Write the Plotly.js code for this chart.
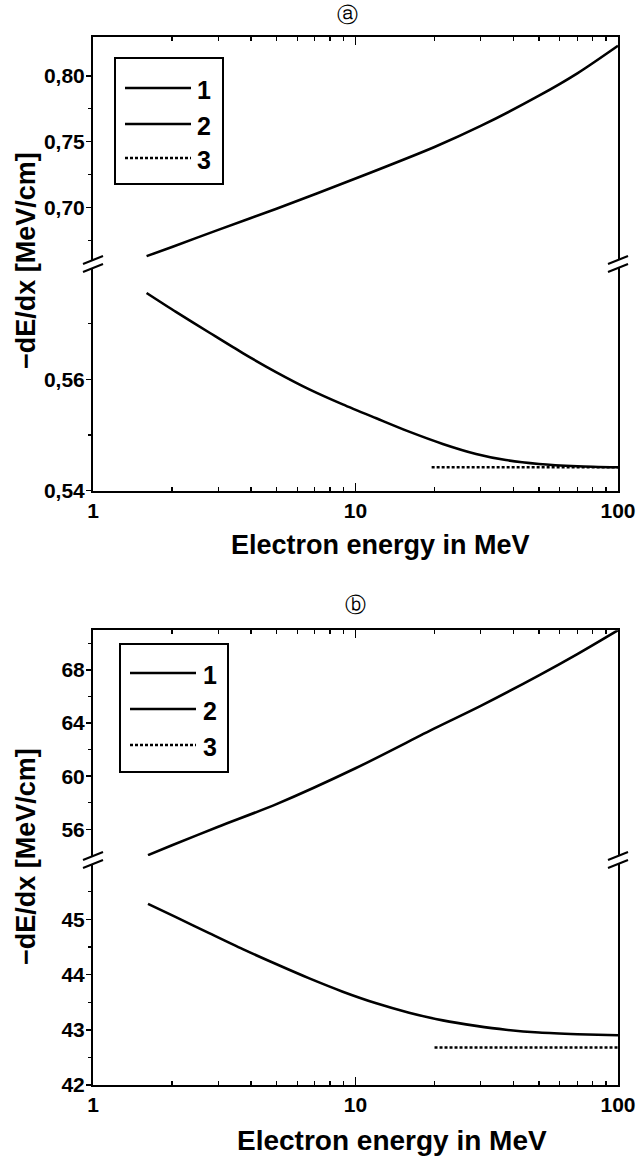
<!DOCTYPE html>
<html>
<head>
<meta charset="utf-8">
<script src="https://cdn.plot.ly/plotly-3.0.1.min.js"></script>
<style>html,body{margin:0;padding:0;background:#fff;}#chart{width:640px;height:1158px;}</style>
</head>
<body>
<div id="chart"></div>
<script>
// ---------- data ----------
const xTickVals = [1, 10, 100];
const xTickText = ['1', '10', '100'];
const xMinorVals = [2, 3, 4, 5, 6, 7, 8, 9, 20, 30, 40, 50, 60, 70, 80, 90];

// panel (a)
const aUpperTickVals = [0.70, 0.75, 0.80];
const aUpperTickText = ['0,70', '0,75', '0,80'];
const aUpperMinor = [0.675, 0.725, 0.775];
const aLowerTickVals = [0.54, 0.56];
const aLowerTickText = ['0,54', '0,56'];
const aLowerMinor = [0.55, 0.57];

const aCurve1E = [1.6, 2, 3, 5, 10, 20, 30, 50, 70, 100];
const aCurve1 = [0.663, 0.670, 0.683, 0.699, 0.722, 0.746, 0.762, 0.785, 0.802, 0.823];
const aCurve2E = [1.6, 2.07, 2.77, 3.72, 4.98, 6.67, 8.94, 12, 16, 21.5, 28.8, 37.4, 50, 70, 100];
const aCurve2 = [0.5755, 0.5721, 0.5684, 0.5647, 0.5613, 0.5582, 0.5555, 0.5530, 0.5506, 0.5484, 0.5466, 0.5455, 0.5448, 0.5444, 0.5442];
const aCurve3E = [19.5, 100];
const aCurve3 = [0.5442, 0.5442];

// panel (b)
const bUpperTickVals = [56, 60, 64, 68];
const bUpperTickText = ['56', '60', '64', '68'];
const bUpperMinor = [58, 62, 66, 70];
const bLowerTickVals = [42, 43, 44, 45];
const bLowerTickText = ['42', '43', '44', '45'];
const bLowerMinor = [42.5, 43.5, 44.5, 45.5];

const bCurve1E = [1.62, 2, 3, 5, 10, 20, 30, 50, 70, 100];
const bCurve1 = [54.06, 54.8, 56.2, 57.9, 60.6, 63.6, 65.3, 67.6, 69.2, 71.0];
const bCurve2E = [1.62, 2.07, 2.77, 3.72, 4.98, 6.67, 8.94, 12, 16, 21.5, 28.8, 37.4, 50, 70, 100];
const bCurve2 = [45.28, 45.04, 44.75, 44.46, 44.19, 43.93, 43.69, 43.48, 43.31, 43.17, 43.07, 43.00, 42.95, 42.92, 42.90];
const bCurve3E = [20, 100];
const bCurve3 = [42.68, 42.68];

const legendLabels = ['1', '2', '3'];
const xTitle = 'Electron energy in MeV';
const yTitle = '\u2212dE/dx [MeV/cm]';
const panelLabels = ['\u24D0', '\u24D1'];

// ---------- layout helpers ----------
const W = 640, H = 1158;
const px = v => v / W;
const py = v => 1 - v / H;
const FONT = 'Liberation Sans, Arial, sans-serif';
const tickFont = {family: FONT, size: 21, color: '#000', weight: 700};

const xDomain = [px(93), px(618)];

function xAxis(anchor, top) {
  return {
    type: 'log', range: [0, 2], domain: xDomain, anchor: anchor,
    side: top ? 'top' : 'bottom',
    showline: true, linecolor: '#000', linewidth: 2, mirror: false,
    ticks: 'inside', ticklen: 8, tickwidth: 1.5, tickcolor: '#000',
    tickvals: xTickVals, ticktext: xTickText, showticklabels: !top,
    minor: {ticks: 'inside', ticklen: 4, tickwidth: 1.2, tickcolor: '#000', tickvals: xMinorVals, showgrid: false},
    showgrid: false, zeroline: false, tickfont: tickFont, automargin: false, fixedrange: true
  };
}
function yAxis(anchor, dom, range, tv, tt, mv) {
  return {
    domain: dom, range: range, anchor: anchor,
    showline: true, linecolor: '#000', linewidth: 2, mirror: true,
    ticks: 'outside', ticklen: 5, tickwidth: 1.5, tickcolor: '#000',
    tickvals: tv, ticktext: tt, ticklabelstandoff: -3,
    minor: {ticks: 'outside', ticklen: 3, tickwidth: 1.2, tickcolor: '#000', tickvals: mv, showgrid: false},
    showgrid: false, zeroline: false, tickfont: tickFont, automargin: false, fixedrange: true
  };
}

const solid = {color: '#000', width: 2.6, shape: 'spline', smoothing: 0.8};
const dotted = {color: '#000', width: 2.4, dash: '3px,2px'};

const traces = [
  {x: aCurve1E, y: aCurve1, xaxis: 'x2', yaxis: 'y2', mode: 'lines', line: solid, name: legendLabels[0]},
  {x: aCurve2E, y: aCurve2, xaxis: 'x', yaxis: 'y', mode: 'lines', line: solid, name: legendLabels[1]},
  {x: aCurve3E, y: aCurve3, xaxis: 'x', yaxis: 'y', mode: 'lines', line: dotted, name: legendLabels[2]},
  {x: bCurve1E, y: bCurve1, xaxis: 'x4', yaxis: 'y4', mode: 'lines', line: solid, name: legendLabels[0]},
  {x: bCurve2E, y: bCurve2, xaxis: 'x3', yaxis: 'y3', mode: 'lines', line: solid, name: legendLabels[1]},
  {x: bCurve3E, y: bCurve3, xaxis: 'x3', yaxis: 'y3', mode: 'lines', line: dotted, name: legendLabels[2]}
];

// break marks and legends (decoration)
const shapes = [];
function breakMarks(xc, yc) {
  [-4, 4].forEach(d => {
    shapes.push({type: 'line', xref: 'paper', yref: 'paper',
      x0: px(xc - 10), y0: py(yc + d + 4), x1: px(xc + 10), y1: py(yc + d - 4),
      line: {color: '#000', width: 2}});
  });
}
breakMarks(93, 264); breakMarks(618, 264);
breakMarks(93, 860); breakMarks(618, 860);

const annotations = [];
function legendBox(x0, y0, x1, y1, lx0, lx1, rows, labelX) {
  shapes.push({type: 'rect', xref: 'paper', yref: 'paper', x0: px(x0), y0: py(y1), x1: px(x1), y1: py(y0),
    line: {color: '#000', width: 2}, fillcolor: 'rgba(0,0,0,0)'});
  rows.forEach((ry, i) => {
    shapes.push({type: 'line', xref: 'paper', yref: 'paper', x0: px(lx0), y0: py(ry), x1: px(lx1), y1: py(ry),
      line: {color: '#000', width: i === 2 ? 2.4 : 2.4, dash: i === 2 ? '3px,2px' : 'solid'}});
    annotations.push({xref: 'paper', yref: 'paper', x: px(labelX), y: py(ry + 2), xanchor: 'left', yanchor: 'middle',
      text: legendLabels[i], showarrow: false, font: {family: FONT, size: 25, color: '#000', weight: 700}});
  });
}
legendBox(115, 58, 223, 184, 125, 191, [88, 124, 158], 195);
legendBox(120, 644, 228, 772, 130, 196, [673, 709, 745], 201);

const titleFont = {family: FONT, size: 27, color: '#000', weight: 700};
annotations.push({xref: 'paper', yref: 'paper', x: px(380), y: py(545), text: xTitle, showarrow: false,
  xanchor: 'center', yanchor: 'middle', font: titleFont});
annotations.push({xref: 'paper', yref: 'paper', x: px(392), y: py(1140), text: xTitle, showarrow: false,
  xanchor: 'center', yanchor: 'middle', font: {family: FONT, size: 28, color: '#000', weight: 700}});
annotations.push({xref: 'paper', yref: 'paper', x: px(26), y: py(261), text: yTitle, showarrow: false, textangle: -90,
  xanchor: 'center', yanchor: 'middle', font: titleFont});
annotations.push({xref: 'paper', yref: 'paper', x: px(26), y: py(857), text: yTitle, showarrow: false, textangle: -90,
  xanchor: 'center', yanchor: 'middle', font: titleFont});
annotations.push({xref: 'paper', yref: 'paper', x: px(347), y: py(15), text: panelLabels[0], showarrow: false,
  xanchor: 'center', yanchor: 'middle', font: {family: 'DejaVu Sans', size: 21, color: '#000'}});
annotations.push({xref: 'paper', yref: 'paper', x: px(355), y: py(605), text: panelLabels[1], showarrow: false,
  xanchor: 'center', yanchor: 'middle', font: {family: 'DejaVu Sans', size: 21, color: '#000'}});

const layout = {
  width: W, height: H, margin: {l: 0, r: 0, t: 0, b: 0}, showlegend: false,
  paper_bgcolor: '#fff', plot_bgcolor: '#fff',
  xaxis: xAxis('y', false),
  xaxis2: xAxis('y2', true),
  xaxis3: xAxis('y3', false),
  xaxis4: xAxis('y4', true),
  yaxis: yAxis('x', [py(490.7), py(267.9)], [0.54, 0.58], aLowerTickVals, aLowerTickText, aLowerMinor),
  yaxis2: yAxis('x2', [py(260.1), py(36.5)], [0.66, 0.83], aUpperTickVals, aUpperTickText, aUpperMinor),
  yaxis3: yAxis('x3', [py(1085), py(864.1)], [42, 46], bLowerTickVals, bLowerTickText, bLowerMinor),
  yaxis4: yAxis('x4', [py(855.9), py(630.2)], [54, 71], bUpperTickVals, bUpperTickText, bUpperMinor),
  shapes: shapes, annotations: annotations
};

Plotly.newPlot('chart', traces, layout, {staticPlot: true, displayModeBar: false});
</script>
</body>
</html>
